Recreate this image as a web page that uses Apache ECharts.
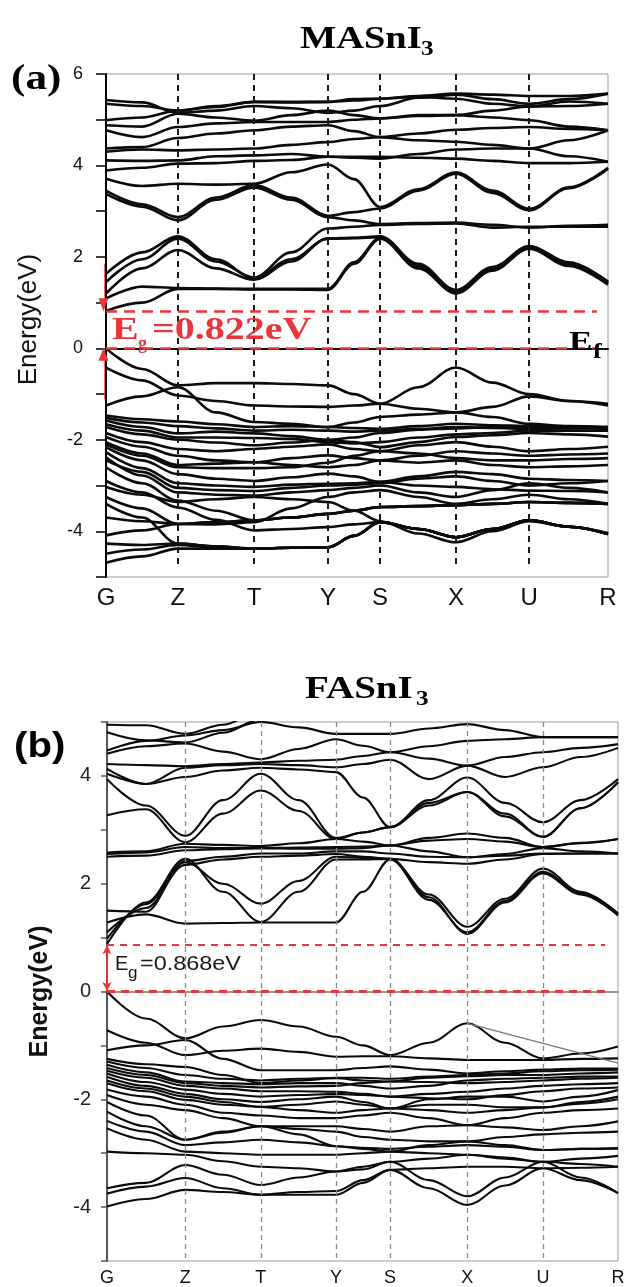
<!DOCTYPE html>
<html>
<head>
<meta charset="utf-8">
<script src="https://cdn.jsdelivr.net/npm/echarts@6/dist/echarts.min.js"></script>
<style>html,body{margin:0;padding:0;background:#fff;}#chart{width:629px;height:1287px;}</style>
</head>
<body>
<div id="chart"></div>
<script>
// ---------- k-path (fraction of path length) ----------
const symLabels = ['G', 'Z', 'T', 'Y', 'S', 'X', 'U', 'R'];
const kSymA = [0, 0.143, 0.295, 0.442, 0.546, 0.697, 0.843, 1.0];
const kSampA = [0, 0.072, 0.143, 0.219, 0.295, 0.369, 0.442, 0.494, 0.546, 0.622, 0.697, 0.770, 0.843, 0.922, 1.0];
const kSymB = [0, 0.153, 0.301, 0.448, 0.554, 0.705, 0.853, 1.0];
const kSampB = [0, 0.076, 0.153, 0.227, 0.301, 0.375, 0.448, 0.501, 0.554, 0.630, 0.705, 0.779, 0.853, 0.927, 1.0];

// ---------- (a) MASnI3 bands (eV) at kSampA ----------
const a_c1 = [0.82, 1.00, 1.30, 1.30, 1.29, 1.29, 1.28, 1.85, 2.40, 1.75, 1.20, 1.70, 2.18, 1.80, 1.39];
const a_c2 = [1.09, 1.35, 1.32, 1.31, 1.30, 1.30, 1.30, 1.88, 2.42, 1.78, 1.23, 1.73, 2.20, 1.83, 1.42];
const a_c3 = [1.20, 1.75, 2.15, 1.75, 1.50, 1.90, 2.40, 2.41, 2.43, 1.80, 1.25, 1.75, 2.22, 1.86, 1.44];
const a_c4 = [1.45, 1.95, 2.40, 1.90, 1.55, 2.10, 2.62, 2.66, 2.70, 2.72, 2.73, 2.64, 2.66, 2.66, 2.66];
const a_c5 = [1.63, 2.10, 2.45, 1.95, 1.53, 1.95, 2.40, 2.42, 2.45, 1.85, 1.28, 1.78, 2.24, 1.88, 1.46];
const a_c6 = [3.38, 3.10, 2.80, 3.25, 3.52, 3.25, 2.87, 2.80, 2.72, 2.74, 2.75, 2.70, 2.64, 2.68, 2.70];
const a_c7 = [3.45, 3.15, 2.87, 3.30, 3.57, 3.30, 2.90, 2.98, 3.06, 3.45, 3.82, 3.40, 3.02, 3.50, 3.93];
const a_c8 = [3.71, 3.55, 3.60, 3.58, 3.60, 3.85, 4.02, 3.70, 3.09, 3.48, 3.85, 3.45, 3.05, 3.52, 3.95];
const a_c9 = [3.89, 3.95, 4.04, 4.05, 4.10, 4.12, 4.19, 4.19, 4.19, 4.17, 4.15, 4.10, 4.05, 4.05, 4.08];
const a_c10 = [4.11, 4.10, 4.11, 4.20, 4.22, 4.25, 4.19, 4.17, 4.15, 4.25, 4.35, 4.37, 4.37, 4.20, 4.08];
const a_c11 = [4.30, 4.35, 4.33, 4.35, 4.37, 4.45, 4.51, 4.58, 4.62, 4.55, 4.52, 4.45, 4.37, 4.55, 4.77];
const a_c12 = [4.37, 4.40, 4.60, 4.70, 4.77, 4.85, 4.88, 4.75, 4.62, 4.70, 4.78, 4.82, 4.84, 4.80, 4.77];
const a_c13 = [4.77, 4.62, 4.84, 4.92, 4.95, 4.95, 4.95, 5.00, 5.03, 5.08, 5.10, 5.05, 4.99, 4.85, 4.77];
const a_c14 = [4.88, 4.85, 5.13, 5.05, 4.98, 5.10, 5.20, 5.10, 5.03, 5.10, 5.10, 5.20, 5.29, 5.30, 5.35];
const a_c15 = [4.99, 5.05, 5.20, 5.30, 5.39, 5.39, 5.39, 5.42, 5.46, 5.50, 5.46, 5.35, 5.29, 5.40, 5.35];
const a_c16 = [5.35, 5.30, 5.20, 5.28, 5.39, 5.38, 5.39, 5.45, 5.46, 5.52, 5.57, 5.55, 5.52, 5.52, 5.57];
const a_c17 = [5.43, 5.38, 5.15, 5.20, 5.30, 5.25, 5.15, 5.20, 5.30, 5.48, 5.55, 5.45, 5.35, 5.45, 5.57];

const a_v1 = [0.00, -0.45, -0.81, -0.76, -0.76, -0.78, -0.81, -1.00, -1.21, -0.85, -0.42, -0.75, -1.00, -1.15, -1.21];
const a_v2 = [-0.42, -0.70, -1.03, -1.15, -1.25, -1.27, -1.28, -1.25, -1.21, -1.32, -1.40, -1.28, -1.05, -1.15, -1.25];
const a_v3 = [-1.25, -1.05, -0.85, -1.40, -1.61, -1.65, -1.72, -1.62, -1.50, -1.45, -1.40, -1.50, -1.65, -1.70, -1.72];
const a_v4 = [-1.47, -1.55, -1.60, -1.66, -1.72, -1.70, -1.72, -1.74, -1.76, -1.70, -1.65, -1.68, -1.70, -1.72, -1.74];
const a_v5 = [-1.58, -1.72, -1.86, -1.82, -1.86, -1.92, -2.00, -1.95, -1.85, -1.78, -1.75, -1.72, -1.72, -1.74, -1.76];
const a_v6 = [-1.72, -1.88, -2.00, -2.06, -2.12, -2.06, -2.00, -2.05, -2.16, -2.05, -1.94, -1.90, -1.85, -1.88, -1.93];
const a_v7 = [-1.85, -2.05, -2.20, -2.25, -2.20, -2.15, -2.10, -2.20, -2.25, -2.12, -2.05, -2.15, -2.25, -2.20, -2.15];
const a_v8 = [-1.94, -2.15, -2.35, -2.45, -2.49, -2.40, -2.34, -2.40, -2.45, -2.35, -2.25, -2.30, -2.35, -2.32, -2.30];
const a_v9 = [-2.05, -2.30, -2.55, -2.52, -2.49, -2.55, -2.60, -2.55, -2.45, -2.50, -2.45, -2.55, -2.60, -2.58, -2.55];
const a_v10 = [-2.16, -2.45, -2.75, -2.85, -2.90, -2.82, -2.74, -2.80, -2.92, -2.80, -2.70, -2.75, -2.85, -2.88, -2.90];
const a_v11 = [-2.27, -2.62, -2.95, -3.00, -3.03, -2.98, -2.96, -2.95, -2.92, -3.00, -3.03, -3.08, -3.11, -3.12, -3.15];
const a_v12 = [-2.38, -2.78, -3.15, -3.20, -3.22, -3.15, -3.10, -3.05, -3.00, -3.15, -3.25, -3.10, -2.95, -3.05, -3.15];
const a_v13 = [-2.60, -2.95, -3.33, -3.55, -3.76, -3.70, -3.62, -3.55, -3.47, -3.45, -3.43, -3.40, -3.36, -3.38, -3.40];
const a_v14 = [-2.90, -3.15, -3.48, -3.75, -3.98, -3.95, -3.91, -3.85, -3.80, -3.95, -4.13, -3.95, -3.76, -3.90, -4.06];
const a_v15 = [-3.03, -3.20, -3.36, -3.30, -3.25, -3.30, -3.36, -3.55, -3.78, -4.05, -4.24, -4.00, -3.78, -3.90, -4.04];
const a_v16 = [-3.25, -3.50, -3.84, -3.85, -3.80, -3.50, -3.25, -3.15, -3.10, -3.25, -3.40, -3.30, -3.20, -3.30, -3.40];
const a_v17 = [-3.40, -3.70, -4.27, -4.33, -4.38, -4.36, -4.35, -4.10, -3.80, -3.95, -4.13, -3.95, -3.76, -3.90, -4.06];
const a_v18 = [-3.70, -3.78, -3.84, -3.80, -3.76, -3.70, -3.62, -3.55, -3.47, -3.45, -3.43, -3.40, -3.36, -3.38, -3.40];
const a_v19 = [-4.09, -3.98, -3.84, -3.80, -3.76, -3.70, -3.62, -3.55, -3.47, -3.45, -3.43, -3.40, -3.36, -3.38, -3.40];
const a_v20 = [-4.27, -4.30, -4.27, -4.33, -4.38, -4.36, -4.35, -4.10, -3.80, -3.95, -4.13, -3.95, -3.76, -3.90, -4.06];
const a_v21 = [-4.49, -4.40, -4.30, -4.35, -4.38, -4.36, -4.35, -4.10, -3.80, -3.95, -4.13, -3.95, -3.76, -3.90, -4.06];
const a_v22 = [-4.69, -4.55, -4.38, -4.38, -4.38, -4.36, -4.35, -4.10, -3.80, -3.95, -4.13, -3.95, -3.76, -3.90, -4.06];
const a_v23 = [-1.52, -1.62, -1.70, -1.75, -1.80, -1.78, -1.80, -1.82, -1.80, -1.76, -1.72, -1.74, -1.76, -1.75, -1.72];
const a_v24 = [-1.66, -1.80, -1.95, -1.95, -1.96, -1.98, -2.05, -2.08, -2.05, -1.95, -1.88, -1.85, -1.80, -1.80, -1.80];
const a_v25 = [-2.10, -2.35, -2.60, -2.62, -2.62, -2.60, -2.50, -2.35, -2.25, -2.30, -2.40, -2.45, -2.45, -2.42, -2.40];
const a_v26 = [-2.45, -2.70, -3.05, -3.10, -3.12, -3.05, -3.00, -2.98, -2.95, -2.85, -2.80, -2.90, -3.00, -2.95, -2.90];

const bandsA = [a_c1, a_c2, a_c3, a_c4, a_c5, a_c6, a_c7, a_c8, a_c9, a_c10, a_c11, a_c12, a_c13, a_c14, a_c15, a_c16, a_c17,
  a_v1, a_v2, a_v3, a_v4, a_v5, a_v6, a_v7, a_v8, a_v9, a_v10, a_v11, a_v12, a_v13, a_v14, a_v15, a_v16, a_v17, a_v18, a_v19,
  a_v20, a_v21, a_v22, a_v23, a_v24, a_v25, a_v26];

// ---------- (b) FASnI3 bands (eV) at kSampB ----------
const b_c1 = [0.88, 1.65, 2.46, 1.85, 1.29, 1.85, 2.45, 2.45, 2.46, 1.75, 1.07, 1.65, 2.19, 1.80, 1.41];
const b_c2 = [0.98, 1.62, 2.40, 2.00, 1.63, 2.05, 2.50, 2.48, 2.46, 1.80, 1.20, 1.72, 2.28, 1.85, 1.45];
const b_c3 = [1.10, 1.55, 2.35, 2.45, 2.50, 2.52, 2.55, 2.50, 2.46, 2.40, 2.37, 2.45, 2.55, 2.56, 2.56];
const b_c4 = [1.28, 1.43, 1.26, 1.27, 1.28, 1.28, 1.28, 1.85, 2.45, 1.70, 1.10, 1.68, 2.22, 1.82, 1.43];
const b_c5 = [1.50, 1.48, 2.42, 2.50, 2.56, 2.56, 2.60, 2.60, 2.56, 2.50, 2.49, 2.52, 2.56, 2.56, 2.56];
const b_c6 = [2.50, 2.52, 2.62, 2.64, 2.66, 2.65, 2.65, 2.66, 2.71, 2.85, 2.93, 2.85, 2.68, 2.75, 2.83];
const b_c7 = [2.55, 2.58, 2.68, 2.66, 2.66, 2.67, 2.68, 2.69, 2.71, 2.80, 2.83, 2.78, 2.68, 2.76, 2.83];
const b_c8 = [2.58, 2.60, 2.74, 2.72, 2.70, 2.75, 2.83, 2.78, 2.71, 2.60, 2.49, 2.55, 2.66, 2.60, 2.56];
const b_c9 = [3.27, 3.38, 2.77, 3.30, 3.73, 3.35, 2.83, 2.95, 3.05, 3.45, 3.70, 3.30, 2.87, 3.40, 3.88];
const b_c10 = [3.94, 3.45, 2.89, 3.55, 4.04, 3.55, 2.85, 2.95, 3.05, 3.55, 3.97, 3.50, 3.14, 3.55, 3.94];
const b_c11 = [4.04, 3.85, 3.98, 4.10, 4.15, 4.12, 4.07, 3.60, 3.05, 3.50, 3.70, 3.25, 2.87, 3.40, 3.88];
const b_c12 = [4.13, 3.85, 4.15, 4.20, 4.22, 4.20, 4.16, 4.22, 4.30, 3.94, 4.19, 3.98, 4.16, 4.35, 4.52];
const b_c13 = [4.22, 4.20, 4.18, 4.22, 4.25, 4.28, 4.30, 4.37, 4.44, 4.32, 4.19, 4.35, 4.44, 4.52, 4.59];
const b_c14 = [4.41, 4.55, 4.60, 4.45, 4.31, 4.50, 4.68, 4.56, 4.44, 4.55, 4.65, 4.68, 4.72, 4.72, 4.72];
const b_c15 = [4.47, 4.65, 4.75, 4.85, 5.00, 4.90, 4.78, 4.78, 4.78, 4.88, 4.96, 4.85, 4.72, 4.72, 4.72];
const b_c16 = [4.95, 4.94, 4.78, 4.95, 5.20, 5.30, 5.30, 5.30, 5.30, 5.30, 5.30, 5.30, 5.30, 5.30, 5.30];
const b_c17 = [4.81, 4.66, 4.62, 4.80, 5.05, 5.25, 5.30, 5.30, 5.30, 5.30, 5.30, 5.30, 5.30, 5.30, 5.30];

const b_v1 = [0.00, -0.50, -0.87, -0.65, -0.53, -0.65, -0.84, -1.00, -1.18, -0.95, -0.59, -0.95, -1.24, -1.15, -1.02];
const b_v2 = [-0.72, -0.95, -1.18, -1.10, -1.06, -1.12, -1.21, -1.20, -1.20, -1.24, -1.27, -1.27, -1.27, -1.25, -1.24];
const b_v3 = [-1.09, -1.00, -0.90, -1.25, -1.46, -1.46, -1.46, -1.42, -1.39, -1.45, -1.52, -1.48, -1.45, -1.43, -1.43];
const b_v4 = [-1.25, -1.35, -1.40, -1.55, -1.70, -1.65, -1.61, -1.65, -1.67, -1.60, -1.57, -1.55, -1.55, -1.52, -1.50];
const b_v5 = [-1.36, -1.50, -1.67, -1.70, -1.72, -1.70, -1.70, -1.75, -1.80, -1.75, -1.65, -1.62, -1.60, -1.58, -1.58];
const b_v6 = [-1.47, -1.60, -1.75, -1.80, -1.85, -1.85, -1.86, -1.90, -1.95, -1.90, -1.86, -1.80, -1.75, -1.72, -1.70];
const b_v7 = [-1.58, -1.75, -1.90, -2.00, -2.05, -2.00, -1.95, -2.05, -2.17, -2.00, -1.95, -1.95, -2.04, -1.95, -1.83];
const b_v8 = [-1.70, -1.85, -2.01, -2.10, -2.14, -2.10, -2.04, -2.10, -2.17, -2.10, -2.10, -2.15, -2.15, -2.05, -1.95];
const b_v9 = [-1.82, -1.95, -2.10, -2.25, -2.30, -2.35, -2.35, -2.30, -2.25, -2.35, -2.48, -2.35, -2.25, -2.20, -2.17];
const b_v10 = [-1.92, -2.10, -2.20, -2.35, -2.50, -2.50, -2.50, -2.55, -2.60, -2.50, -2.48, -2.52, -2.57, -2.50, -2.41];
const b_v11 = [-2.05, -2.30, -2.75, -2.60, -2.50, -2.55, -2.60, -2.70, -2.75, -2.78, -2.78, -2.70, -2.65, -2.62, -2.60];
const b_v12 = [-2.23, -2.50, -2.75, -2.62, -2.50, -2.65, -2.87, -2.92, -2.97, -2.85, -2.78, -2.85, -2.94, -2.92, -2.91];
const b_v13 = [-2.54, -2.75, -2.97, -3.00, -3.03, -3.03, -3.03, -3.00, -2.97, -3.00, -3.03, -3.08, -3.16, -3.10, -3.05];
const b_v14 = [-2.97, -3.00, -3.03, -3.15, -3.25, -3.28, -3.34, -3.30, -3.16, -3.10, -3.03, -3.10, -3.16, -3.20, -3.25];
const b_v15 = [-3.65, -3.55, -3.22, -3.40, -3.59, -3.45, -3.34, -3.25, -3.16, -3.50, -3.80, -3.45, -3.16, -3.45, -3.74];
const b_v16 = [-3.75, -3.62, -3.46, -3.65, -3.77, -3.72, -3.70, -3.50, -3.31, -3.65, -3.96, -3.60, -3.28, -3.50, -3.74];
const b_v17 = [-3.99, -3.85, -3.68, -3.72, -3.77, -3.77, -3.77, -3.55, -3.31, -3.28, -3.25, -3.25, -3.28, -3.27, -3.25];
const b_v18 = [-2.40, -2.60, -2.85, -2.80, -2.75, -2.80, -2.87, -2.90, -2.92, -2.88, -2.85, -2.88, -2.94, -2.92, -2.91];
const b_v19 = [-1.30, -1.42, -1.55, -1.62, -1.65, -1.62, -1.60, -1.60, -1.62, -1.58, -1.55, -1.52, -1.48, -1.46, -1.45];
const b_v20 = [-1.42, -1.55, -1.70, -1.75, -1.78, -1.76, -1.75, -1.70, -1.67, -1.68, -1.70, -1.68, -1.65, -1.62, -1.60];
const b_v21 = [-1.52, -1.68, -1.82, -1.90, -1.95, -1.92, -1.90, -1.92, -1.95, -1.98, -2.00, -1.92, -1.85, -1.80, -1.78];
const b_v22 = [-1.65, -1.80, -1.95, -2.05, -2.14, -2.20, -2.25, -2.20, -2.17, -2.20, -2.25, -2.20, -2.15, -2.08, -2.00];

const bandsB = [b_c1, b_c2, b_c3, b_c4, b_c5, b_c6, b_c7, b_c8, b_c9, b_c10, b_c11, b_c12, b_c13, b_c14, b_c15, b_c16, b_c17,
  b_v1, b_v2, b_v3, b_v4, b_v5, b_v6, b_v7, b_v8, b_v9, b_v10, b_v11, b_v12, b_v13, b_v14, b_v15, b_v16, b_v17, b_v18,
  b_v19, b_v20, b_v21, b_v22];

// ---------- gaps / extra line ----------
const gapA = 0.822;
const gapB = 0.868;
const grayLineB = [[0.705, -0.59], [1.0, -1.33]];

// ---------- build ----------
const RED = '#e8363a';
const chart = echarts.init(document.getElementById('chart'), null, {renderer: 'canvas'});

function nearestLabel(v, ks) {
  let bi = 0, bd = Infinity;
  ks.forEach((k, i) => { const d = Math.abs(k - v); if (d < bd) { bd = d; bi = i; } });
  return symLabels[bi];
}

function bandSeries(bands, ks, gi, w) {
  return bands.map((b) => ({
    type: 'line', xAxisIndex: gi, yAxisIndex: gi,
    data: ks.map((k, i) => [k, b[i]]),
    smooth: 0.35, smoothMonotone: 'x', symbol: 'none', silent: true, clip: true,
    lineStyle: {color: '#0b0b0b', width: w}, z: 3
  }));
}

function vLines(ks, top, bottom, style) {
  return ks.slice(1, ks.length - 1).map((k) => [{coord: [k, top], lineStyle: style}, {coord: [k, bottom]}]);
}

const series = [];
series.push(...bandSeries(bandsA, kSampA, 0, 2.6));
series.push(...bandSeries(bandsB, kSampB, 1, 2.1));

// panel (a) guide lines
series.push({
  type: 'line', xAxisIndex: 0, yAxisIndex: 0, data: [], silent: true, z: 2,
  markLine: {
    silent: true, symbol: 'none', label: {show: false}, animation: false,
    lineStyle: {color: '#1a1a1a', width: 2, type: [6, 5]},
    data: vLines(kSymA, 6, -4.75, {color: '#1a1a1a', width: 2, type: [6, 5]})
  }
});
series.push({
  type: 'line', xAxisIndex: 0, yAxisIndex: 0, data: [], silent: true, z: 5,
  markLine: {
    silent: true, symbol: 'none', label: {show: false}, animation: false,
    lineStyle: {color: RED, width: 2.5, type: [11, 7]},
    data: [
      [{coord: [0, gapA]}, {coord: [0.978, gapA]}],
      [{coord: [0, 0]}, {coord: [0.978, 0]}]
    ]
  }
});
// panel (a) red arrows
series.push({
  type: 'line', xAxisIndex: 0, yAxisIndex: 0, clip: false, silent: true, z: 6,
  symbol: 'none', showSymbol: true, lineStyle: {color: RED, width: 2.5},
  itemStyle: {color: RED},
  data: [[-0.005, 1.85], {value: [-0.005, gapA + 0.13], symbol: 'triangle', symbolSize: [10, 13], symbolRotate: 180}]
});
series.push({
  type: 'line', xAxisIndex: 0, yAxisIndex: 0, clip: false, silent: true, z: 6,
  symbol: 'none', showSymbol: true, lineStyle: {color: RED, width: 2.5},
  itemStyle: {color: RED},
  data: [[-0.005, -1.12], {value: [-0.005, -0.13], symbol: 'triangle', symbolSize: [10, 13], symbolRotate: 0}]
});

// panel (b) guide lines
series.push({
  type: 'line', xAxisIndex: 1, yAxisIndex: 1, data: [], silent: true, z: 2,
  markLine: {
    silent: true, symbol: 'none', label: {show: false}, animation: false,
    lineStyle: {color: '#8a8a8a', width: 1.3, type: [5, 4]},
    data: vLines(kSymB, 5, -5, {color: '#8a8a8a', width: 1.3, type: [5, 4]})
  }
});
series.push({
  type: 'line', xAxisIndex: 1, yAxisIndex: 1, data: [], silent: true, z: 7,
  markLine: {
    silent: true, symbol: 'none', label: {show: false}, animation: false,
    data: [
      [{coord: [0, gapB], lineStyle: {color: RED, width: 1.8, type: [7, 6]}}, {coord: [0.975, gapB]}],
      [{coord: [0, 0], lineStyle: {color: RED, width: 3, type: [8, 6]}}, {coord: [0.975, 0]}],
      [{coord: [0, 0.01], symbol: 'arrow', symbolSize: [7, 9], lineStyle: {color: RED, width: 1.8, type: 'solid'}},
       {coord: [0, gapB - 0.01], symbol: 'arrow', symbolSize: [7, 9]}]
    ]
  }
});
series.push({
  type: 'line', xAxisIndex: 1, yAxisIndex: 1, silent: true, z: 4, symbol: 'none',
  lineStyle: {color: '#777', width: 1.2}, data: grayLineB
});

const txt = (x, y, text, font, fill, opts) => Object.assign({
  type: 'text', x: x, y: y, silent: true, z: 100,
  style: {text: text, font: font, fill: fill, textAlign: 'left', textVerticalAlign: 'middle'}
}, opts || {});

const option = {
  animation: false,
  backgroundColor: '#fff',
  grid: [
    {left: 106, top: 74, right: 21, bottom: 710, show: true, borderColor: '#9a9a9a', borderWidth: 1},
    {left: 107, top: 722, right: 11, bottom: 25, show: true, borderColor: '#9a9a9a', borderWidth: 1}
  ],
  xAxis: [
    {gridIndex: 0, type: 'value', min: 0, max: 1,
      axisLine: {lineStyle: {color: '#000', width: 2}}, axisTick: {show: false}, splitLine: {show: false},
      axisLabel: {customValues: kSymA, formatter: (v) => nearestLabel(v, kSymA), showMinLabel: true, showMaxLabel: true,
        fontSize: 24, fontFamily: 'Liberation Sans', color: '#111', margin: 9}},
    {gridIndex: 1, type: 'value', min: 0, max: 1,
      axisLine: {lineStyle: {color: '#777', width: 1.5}}, axisTick: {show: false}, splitLine: {show: false},
      axisLabel: {customValues: kSymB, formatter: (v) => nearestLabel(v, kSymB), showMinLabel: true, showMaxLabel: true,
        fontSize: 18, fontFamily: 'Liberation Sans', color: '#111', margin: 8}}
  ],
  yAxis: [
    {gridIndex: 0, type: 'value', min: -5, max: 6, interval: 1,
      axisLine: {show: true, lineStyle: {color: '#000', width: 2}},
      axisTick: {show: true, length: 10, lineStyle: {color: '#000', width: 1.5}},
      splitLine: {show: false},
      axisLabel: {formatter: (v) => (v % 2 === 0 ? String(v) : ''), fontSize: 18, fontFamily: 'Liberation Sans', color: '#111', margin: 23},
      name: 'Energy(eV)', nameLocation: 'middle', nameRotate: 90, nameGap: 64,
      nameTextStyle: {fontSize: 26, fontFamily: 'Liberation Sans', color: '#111', padding: [0, 0, 0, 12]}},
    {gridIndex: 1, type: 'value', min: -5, max: 5, interval: 1,
      axisLine: {show: true, lineStyle: {color: '#555', width: 2}},
      axisTick: {show: true, length: 6, lineStyle: {color: '#555', width: 1.5}},
      splitLine: {show: false},
      axisLabel: {formatter: (v) => (v % 2 === 0 ? String(v) : ''), fontSize: 20, fontFamily: 'Liberation Sans', color: '#222', margin: 16},
      name: 'Energy(eV)', nameLocation: 'middle', nameRotate: 90, nameGap: 54,
      nameTextStyle: {fontSize: 25, fontWeight: 'bold', fontFamily: 'Liberation Sans', color: '#111'}}
  ],
  graphic: [
    txt(300, 40, 'MASnI', 'bold 32px "Liberation Serif"', '#000', {scaleX: 1.2}),
    txt(421, 50, '3', 'bold 21px "Liberation Serif"', '#000', {scaleX: 1.2}),
    txt(305, 690, 'FASnI', 'bold 32px "Liberation Serif"', '#000', {scaleX: 1.22}),
    txt(416, 700, '3', 'bold 21px "Liberation Serif"', '#000', {scaleX: 1.2}),
    txt(11, 80, '(a)', 'bold 36px "Liberation Serif"', '#000', {scaleX: 1.2}),
    txt(14, 747, '(b)', 'bold 35px "Liberation Sans"', '#000', {scaleX: 1.15}),
    txt(112, 331, 'E', 'bold 32px "Liberation Serif"', RED, {scaleX: 1.25}),
    txt(138, 344, 'g', 'bold 18px "Liberation Serif"', RED, {}),
    txt(152, 331, '=0.822eV', 'bold 32px "Liberation Serif"', RED, {scaleX: 1.25}),
    txt(569, 343, 'E', 'bold 27px "Liberation Serif"', '#000', {scaleX: 1.3}),
    txt(593, 352, 'f', 'bold 22px "Liberation Serif"', '#000', {scaleX: 1.2}),
    txt(115, 964, 'E', '20px "Liberation Sans"', '#1a1a1a', {}),
    txt(128, 973, 'g', '17px "Liberation Sans"', '#1a1a1a', {}),
    txt(140, 964, '=0.868eV', '20px "Liberation Sans"', '#1a1a1a', {scaleX: 1.17})
  ],
  series: series
};
chart.setOption(option);
</script>
</body>
</html>
